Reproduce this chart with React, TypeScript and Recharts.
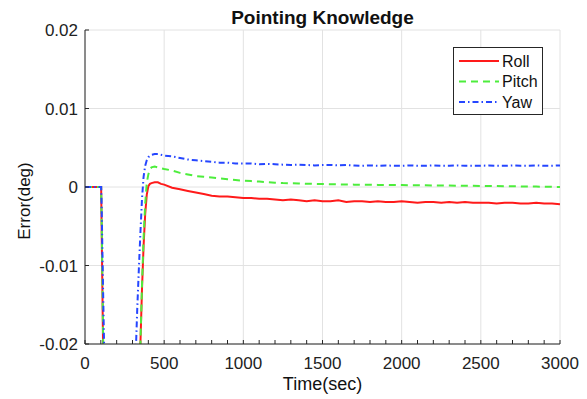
import React from 'react';
import { LineChart, Line, XAxis, YAxis, CartesianGrid, Legend } from 'recharts';

const times = [0, 100, 102, 105, 110, 115, 120, 125, 200, 300, 320, 330, 340, 350, 360, 370, 380, 390, 400, 410, 420, 440, 460, 480, 500,
  550, 600, 650, 700, 750, 800, 850, 900, 950, 1000, 1050, 1100, 1150, 1200, 1250, 1300, 1350, 1400, 1450, 1500,
  1550, 1600, 1650, 1700, 1750, 1800, 1850, 1900, 1950, 2000, 2050, 2100, 2150, 2200, 2250, 2300, 2350, 2400, 2450, 2500,
  2550, 2600, 2650, 2700, 2750, 2800, 2850, 2900, 2950, 3000];

const roll = [0, 0, 0, -0.005, -0.0133, -0.0217, -0.03, -0.03, -0.03, -0.03, -0.03, -0.03, -0.026, -0.02, -0.013, -0.0075, -0.0035, -0.001, 0.0001, 0.0004, 0.0005, 0.0006, 0.0006, 0.0004, 0.0003,
  -0.0001, -0.0003, -0.0005, -0.0007, -0.0009, -0.0011, -0.0012, -0.0012, -0.0013, -0.0014, -0.0014, -0.0015, -0.0015, -0.0016, -0.0017, -0.0016, -0.0017, -0.0018, -0.0017, -0.0018,
  -0.0018, -0.0017, -0.0019, -0.0018, -0.0018, -0.0019, -0.0018, -0.0019, -0.0019, -0.0018, -0.0019, -0.002, -0.0019, -0.0019, -0.002, -0.0019, -0.002, -0.0019, -0.002, -0.002,
  -0.002, -0.0021, -0.002, -0.002, -0.0021, -0.0021, -0.002, -0.0021, -0.0021, -0.0022];

const pitch = [0, 0, 0, -0.004, -0.012, -0.02, -0.03, -0.03, -0.03, -0.03, -0.03, -0.03, -0.026, -0.02, -0.0125, -0.0065, -0.0022, 0.0005, 0.0016, 0.0022, 0.0025, 0.0026, 0.0025, 0.0024, 0.0023,
  0.0021, 0.0018, 0.0016, 0.0014, 0.0013, 0.0012, 0.0011, 0.001, 0.0009, 0.0008, 0.00075, 0.0007, 0.00062, 0.00055, 0.0005, 0.00048, 0.00045, 0.00042, 0.0004, 0.00038,
  0.00036, 0.00034, 0.00032, 0.0003, 0.00029, 0.00028, 0.00027, 0.00026, 0.00025, 0.00024, 0.00023, 0.00023, 0.00022, 0.0002, 0.00019, 0.00018, 0.00017, 0.00016, 0.00015, 0.00014,
  0.00013, 0.00012, 0.0001, 0.00009, 0.00008, 0.00006, 0.00005, 0.00003, 0.00002, 0];

const yaw = [0, 0, 0, -0.0023, -0.0082, -0.014, -0.0195, -0.025, -0.03, -0.03, -0.0215, -0.0155, -0.0105, -0.0058, -0.0015, 0.0013, 0.0027, 0.0034, 0.0038, 0.004, 0.0041, 0.0042, 0.0042, 0.0041, 0.004,
  0.0039, 0.0037, 0.0035, 0.0034, 0.0033, 0.0032, 0.0031, 0.0031, 0.003, 0.003, 0.003, 0.0029, 0.00295, 0.0029, 0.00285, 0.0028, 0.00285, 0.0028, 0.00275, 0.0028,
  0.0028, 0.00275, 0.0028, 0.00275, 0.0027, 0.00275, 0.0027, 0.00275, 0.0027, 0.0027, 0.00275, 0.0027, 0.0027, 0.00275, 0.0027, 0.0027, 0.00275, 0.0027, 0.0027, 0.0027,
  0.00275, 0.0027, 0.0027, 0.00275, 0.0027, 0.0027, 0.00275, 0.0027, 0.0027, 0.00275];

const xMajorTicks = [0, 500, 1000, 1500, 2000, 2500, 3000];
const xMinorTicks = [0, 100, 200, 300, 400, 500, 600, 700, 800, 900, 1000, 1100, 1200, 1300, 1400, 1500, 1600, 1700, 1800, 1900, 2000,
  2100, 2200, 2300, 2400, 2500, 2600, 2700, 2800, 2900, 3000];
const yTicks = [-0.02, -0.01, 0, 0.01, 0.02];
const yTickLabels = ['-0.02', '-0.01', '0', '0.01', '0.02'];

const chartTitle = 'Pointing Knowledge';

const data = times.map((t, i) => ({ t, roll: roll[i], pitch: pitch[i], yaw: yaw[i] }));

const series = [
  { key: 'roll', name: 'Roll', color: '#ff1a1a', dash: undefined as string | undefined },
  { key: 'pitch', name: 'Pitch', color: '#4ded3c', dash: '7 5' },
  { key: 'yaw', name: 'Yaw', color: '#2546ff', dash: '6 3 1.5 3' },
];

const FONT = '"Liberation Sans", Arial, Helvetica, sans-serif';
const AXIS = '#262626';

const XLabel = (props: any) => {
  const vb = props.viewBox || {};
  return (
    <text x={vb.x + vb.width / 2} y={vb.y + 46} textAnchor="middle" fontFamily={FONT} fontSize={18} fill="#111">
      Time(sec)
    </text>
  );
};

const YLabel = (props: any) => {
  const vb = props.viewBox || {};
  const cx = vb.x + 24;
  const cy = vb.y + vb.height / 2 + 14;
  return (
    <text x={cx} y={cy} transform={`rotate(-90 ${cx} ${cy})`} textAnchor="middle" dominantBaseline="central" fontFamily={FONT} fontSize={17} fill="#111">
      Error(deg)
    </text>
  );
};

const LegendBox = () => (
  <div style={{ width: 88, height: 66, border: `1px solid ${AXIS}`, background: '#fff' }}>
    <svg width={88} height={66} style={{ display: 'block' }}>
      {series.map((s, i) => {
        const cy = 13 + i * 20.5;
        return (
          <g key={s.key}>
            <line x1={5} x2={45} y1={cy} y2={cy} stroke={s.color} strokeWidth={2} strokeDasharray={s.dash} />
            <text x={48} y={cy} dominantBaseline="central" fontFamily={FONT} fontSize={16} fill="#111">{s.name}</text>
          </g>
        );
      })}
    </svg>
  </div>
);

const verticalGrid = ({ xAxis }: any) => {
  const sc = xAxis && xAxis.scale;
  if (!sc) return [];
  const f = typeof sc === 'function' ? sc : sc.map ? (v: number) => sc.map(v) : null;
  if (!f) return [];
  return xMajorTicks.map((v) => f(v));
};

export default function App() {
  return (
    <div style={{ position: 'absolute', left: 0, top: 0, width: 587, height: 399, background: '#fff' }}>
      <div
        style={{
          position: 'absolute', left: 85, top: 8, width: 475, textAlign: 'center',
          fontFamily: FONT, fontWeight: 'bold', fontSize: 19, lineHeight: '19px', color: '#111', zIndex: 2,
        }}
      >
        {chartTitle}
      </div>
      <LineChart width={587} height={399} data={data} margin={{ top: 30, right: 27, bottom: 0, left: 0 }}>
        <CartesianGrid stroke="#e2e2e2" strokeWidth={1} verticalCoordinatesGenerator={verticalGrid} />
        <XAxis
          dataKey="t"
          type="number"
          domain={[0, 3000]}
          allowDataOverflow
          ticks={xMinorTicks}
          interval={0}
          tickFormatter={(v: number) => (xMajorTicks.includes(v) ? String(v) : '')}
          tickSize={-4}
          tickMargin={17}
          height={55}
          stroke={AXIS}
          tick={{ fill: '#222', fontSize: 17, fontFamily: FONT }}
          label={<XLabel />}
        />
        <XAxis
          xAxisId="top"
          orientation="top"
          type="number"
          domain={[0, 3000]}
          allowDataOverflow
          ticks={xMinorTicks}
          interval={0}
          tickFormatter={() => ''}
          tickSize={-4}
          height={0}
          stroke={AXIS}
        />
        <YAxis
          type="number"
          domain={[-0.02, 0.02]}
          allowDataOverflow
          ticks={yTicks}
          interval={0}
          tickFormatter={(v: number) => yTickLabels[yTicks.indexOf(v)] ?? String(v)}
          tickSize={-4}
          tickMargin={11}
          width={85}
          stroke={AXIS}
          tick={{ fill: '#222', fontSize: 17, fontFamily: FONT }}
          label={<YLabel />}
        />
        <YAxis
          yAxisId="right"
          orientation="right"
          type="number"
          domain={[-0.02, 0.02]}
          allowDataOverflow
          ticks={yTicks}
          interval={0}
          tickFormatter={() => ''}
          tickSize={-4}
          width={0}
          stroke={AXIS}
        />
        {series.map((s) => (
          <Line
            key={s.key}
            type="linear"
            dataKey={s.key}
            name={s.name}
            stroke={s.color}
            strokeWidth={2}
            strokeDasharray={s.dash}
            dot={false}
            activeDot={false}
            isAnimationActive={false}
          />
        ))}
        <Legend
          layout="vertical"
          align="center"
          verticalAlign="middle"
          content={<LegendBox />}
          wrapperStyle={{ position: 'absolute', left: 453, top: 47, width: 90, height: 68 }}
        />
      </LineChart>
    </div>
  );
}
